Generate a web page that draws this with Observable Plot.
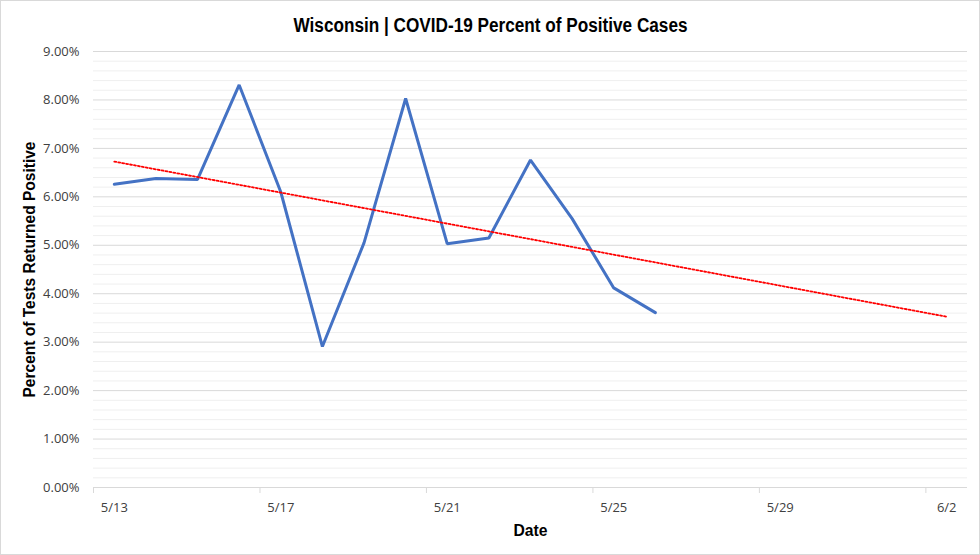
<!DOCTYPE html>
<html><head><meta charset="utf-8">
<script src="https://cdn.jsdelivr.net/npm/d3@7"></script>
<script src="https://cdn.jsdelivr.net/npm/@observablehq/plot@0.6"></script>
<style>
body{margin:0;background:#fff;}
#wrap{position:relative;width:980px;height:555px;overflow:hidden;}
#wrap .border{position:absolute;left:0;top:0;width:980px;height:555px;box-sizing:border-box;border:1px solid #d9d9d9;pointer-events:none;}
</style></head><body><div id="wrap"><div class="border"></div></div>
<script>
// ---- data ----
const dates = ["2020-05-13","2020-05-14","2020-05-15","2020-05-16","2020-05-17","2020-05-18","2020-05-19",
               "2020-05-20","2020-05-21","2020-05-22","2020-05-23","2020-05-24","2020-05-25","2020-05-26"];
const positivePct = [6.26, 6.38, 6.36, 8.31, 6.10, 2.91, 5.05, 8.03, 5.03, 5.15, 6.76, 5.55, 4.12, 3.61];
const trendEndDate = "2020-06-02";
const xLabelDates = ["2020-05-13","2020-05-17","2020-05-21","2020-05-25","2020-05-29","2020-06-02"];
const yMajorTicks = [0,1,2,3,4,5,6,7,8,9];
const yMinorTicks = [0.2,0.4,0.6,0.8,1.2,1.4,1.6,1.8,2.2,2.4,2.6,2.8,3.2,3.4,3.6,3.8,4.2,4.4,4.6,4.8,
                     5.2,5.4,5.6,5.8,6.2,6.4,6.6,6.8,7.2,7.4,7.6,7.8,8.2,8.4,8.6,8.8];
const titleText = "Wisconsin | COVID-19 Percent of Positive Cases";
const yTitle = "Percent of Tests Returned Positive";
const xTitle = "Date";

// ---- build ----
const DAY = 86400000;
const parse = s => new Date(s + "T00:00:00Z");
const data = dates.map((d, i) => ({date: parse(d), pct: positivePct[i]}));
const labelDates = xLabelDates.map(parse);
const boundaryDates = labelDates.map(d => new Date(+d - DAY / 2));
const start = parse(dates[0]);
const domain = [new Date(+start - DAY / 2), new Date(+parse(trendEndDate) + DAY / 2)];

// linear trend (least squares over day index)
const xs = data.map(d => (d.date - start) / DAY);
const ys = data.map(d => d.pct);
const mx = d3.mean(xs), my = d3.mean(ys);
const slope = d3.sum(xs.map((x, i) => (x - mx) * (ys[i] - my))) / d3.sum(xs.map(x => (x - mx) ** 2));
const icpt = my - slope * mx;
const endIdx = (parse(trendEndDate) - start) / DAY;
const trend = [0, endIdx].map(k => ({date: new Date(+start + k * DAY), pct: icpt + slope * k}));

const titleFont = "'Liberation Sans', Arial, sans-serif";
const fmtDate = d => `${d.getUTCMonth() + 1}/${d.getUTCDate()}`;

const chart = Plot.plot({
  width: 980, height: 555,
  marginLeft: 93, marginRight: 13, marginTop: 51, marginBottom: 68,
  style: {fontFamily: "'Open Sans', sans-serif", fontSize: "13px", color: "#595959", background: "#fff", overflow: "visible"},
  x: {type: "utc", domain},
  y: {domain: [0, 9]},
  marks: [
    Plot.ruleY(yMinorTicks, {stroke: "#efefef", strokeWidth: 1}),
    Plot.ruleY(yMajorTicks, {stroke: "#d9d9d9", strokeWidth: 1}),
    Plot.axisY(yMajorTicks, {tickSize: 0, tickPadding: 14, tickFormat: d => d.toFixed(2) + "%", label: null, fill: "#404040"}),
    Plot.axisX(boundaryDates, {tickSize: 6, tickFormat: () => "", stroke: "#d9d9d9", label: null}),
    Plot.axisX(labelDates, {tickSize: 0, tickPadding: 15, tickFormat: fmtDate, label: null, fill: "#404040"}),
    Plot.lineY(data, {x: "date", y: "pct", stroke: "#4472c4", strokeWidth: 3, strokeLinejoin: "miter"}),
    Plot.line(trend, {x: "date", y: "pct", stroke: "#ff0000", strokeWidth: 1.8, strokeDasharray: "2,2"}),
    Plot.text([titleText], {text: d => d, frameAnchor: "top", lineAnchor: "middle", dx: -40, dy: -25.5,
      fontSize: 19.5, fontWeight: "bold", fontFamily: titleFont, fill: "#000", className: "t-main"}),
    Plot.text([yTitle], {text: d => d, frameAnchor: "left", textAnchor: "middle", lineAnchor: "middle", rotate: -90, dx: -64,
      fontSize: 16, fontWeight: "bold", fontFamily: titleFont, fill: "#000", className: "t-y"}),
    Plot.text([xTitle], {text: d => d, frameAnchor: "bottom", lineAnchor: "middle", dy: 43.5,
      fontSize: 17, fontWeight: "bold", fontFamily: titleFont, fill: "#000", className: "t-x"})
  ]
});
document.getElementById("wrap").prepend(chart);
// condense the bold titles to the narrow width of the original typeface
for (const [cls, len] of [["t-main", 394], ["t-y", 256], ["t-x", 34]]) {
  chart.querySelectorAll(`.${cls} text`).forEach(t => {
    t.setAttribute("textLength", len);
    t.setAttribute("lengthAdjust", "spacingAndGlyphs");
  });
}
</script>
</body></html>
